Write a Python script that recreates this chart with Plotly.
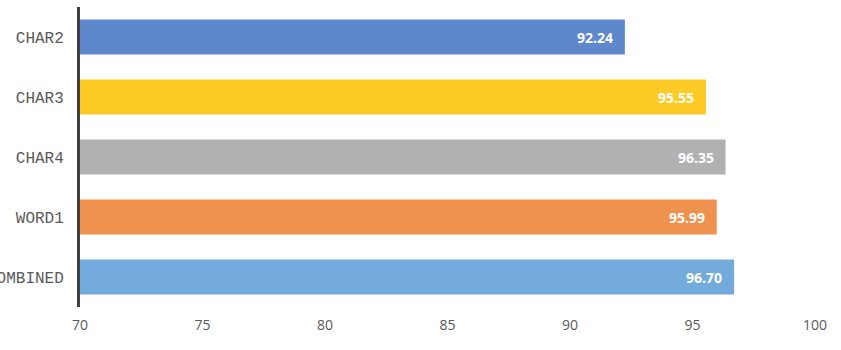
import plotly.graph_objects as go

categories = ["CHAR2", "CHAR3", "CHAR4", "WORD1", "COMBINED"]
values = [92.24, 95.55, 96.35, 95.99, 96.70]
labels = ["92.24", "95.55", "96.35", "95.99", "96.70"]
colors = ["#5F87CB", "#FECA26", "#B1B1B1", "#F0924F", "#72AADB"]
x_ticks = [70, 75, 80, 85, 90, 95, 100]
x_min, x_max = 70, 100

fig = go.Figure(go.Bar(
    y=categories,
    x=[v - x_min for v in values],
    base=x_min,
    orientation="h",
    marker=dict(color=colors, line=dict(width=0)),
    hoverinfo="skip",
))

for cat, v, lab in zip(categories, values, labels):
    fig.add_annotation(
        x=v, y=cat, text=lab, showarrow=False,
        xanchor="right", yanchor="middle", xshift=-10,
        font=dict(family="Open Sans", size=14, color="white", weight="bold"),
    )

fig.update_layout(
    width=841, height=350,
    margin=dict(l=80, r=26, t=7, b=43),
    plot_bgcolor="white", paper_bgcolor="white",
    bargap=0.42,
    showlegend=False,
)
fig.update_xaxes(
    range=[x_min, x_max], tickvals=x_ticks, showgrid=False, zeroline=False,
    showline=False, tickfont=dict(family="Open Sans", size=14, color="#595959"),
    ticks="", ticklabelstandoff=8, automargin=False,
)
fig.update_yaxes(
    autorange="reversed", showgrid=False, zeroline=False,
    showline=True, linecolor="#404040", linewidth=3,
    tickfont=dict(family="Liberation Mono", size=16, color="#5a5a5a"),
    ticks="", ticklabelstandoff=10, automargin=False,
)
fig.write_html("out.html")
